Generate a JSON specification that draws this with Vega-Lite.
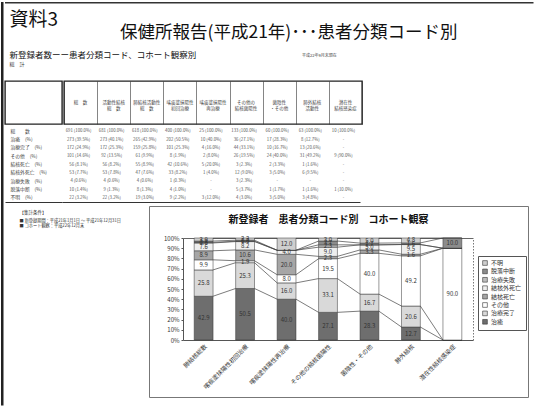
{
  "$schema": "https://vega.github.io/schema/vega-lite/v6.json",
  "padding": {"left": 1, "top": 2, "right": 0, "bottom": 0},
  "spacing": 0,
  "datasets": {
    "cohort": [
      {"cat": "総数", "status": "総数", "n": 691, "pct": 100},
      {"cat": "総数", "status": "治癒", "n": 273, "pct": 39.5},
      {"cat": "総数", "status": "治療完了", "n": 172, "pct": 24.9},
      {"cat": "総数", "status": "その他", "n": 101, "pct": 14.6},
      {"cat": "総数", "status": "結核死亡", "n": 56, "pct": 8.1},
      {"cat": "総数", "status": "結核外死亡", "n": 53, "pct": 7.7},
      {"cat": "総数", "status": "治療失敗", "n": 4, "pct": 0.6},
      {"cat": "総数", "status": "脱落中断", "n": 10, "pct": 1.4},
      {"cat": "総数", "status": "不明", "n": 22, "pct": 3.2},
      {"cat": "活動性結核総数", "status": "総数", "n": 681, "pct": 100},
      {"cat": "活動性結核総数", "status": "治癒", "n": 273, "pct": 40.1},
      {"cat": "活動性結核総数", "status": "治療完了", "n": 172, "pct": 25.3},
      {"cat": "活動性結核総数", "status": "その他", "n": 92, "pct": 13.5},
      {"cat": "活動性結核総数", "status": "結核死亡", "n": 56, "pct": 8.2},
      {"cat": "活動性結核総数", "status": "結核外死亡", "n": 53, "pct": 7.8},
      {"cat": "活動性結核総数", "status": "治療失敗", "n": 4, "pct": 0.6},
      {"cat": "活動性結核総数", "status": "脱落中断", "n": 9, "pct": 1.3},
      {"cat": "活動性結核総数", "status": "不明", "n": 22, "pct": 3.2},
      {"cat": "肺結核総数", "status": "総数", "n": 618, "pct": 100},
      {"cat": "肺結核総数", "status": "治癒", "n": 265, "pct": 42.9},
      {"cat": "肺結核総数", "status": "治療完了", "n": 159, "pct": 25.8},
      {"cat": "肺結核総数", "status": "その他", "n": 61, "pct": 9.9},
      {"cat": "肺結核総数", "status": "結核死亡", "n": 55, "pct": 8.9},
      {"cat": "肺結核総数", "status": "結核外死亡", "n": 47, "pct": 7.6},
      {"cat": "肺結核総数", "status": "治療失敗", "n": 4, "pct": 0.6},
      {"cat": "肺結核総数", "status": "脱落中断", "n": 8, "pct": 1.3},
      {"cat": "肺結核総数", "status": "不明", "n": 19, "pct": 3.0},
      {"cat": "喀痰塗抹陽性初回治療", "status": "総数", "n": 400, "pct": 100},
      {"cat": "喀痰塗抹陽性初回治療", "status": "治癒", "n": 202, "pct": 50.5},
      {"cat": "喀痰塗抹陽性初回治療", "status": "治療完了", "n": 101, "pct": 25.3},
      {"cat": "喀痰塗抹陽性初回治療", "status": "その他", "n": 8, "pct": 1.9},
      {"cat": "喀痰塗抹陽性初回治療", "status": "結核死亡", "n": 42, "pct": 10.6},
      {"cat": "喀痰塗抹陽性初回治療", "status": "結核外死亡", "n": 33, "pct": 8.2},
      {"cat": "喀痰塗抹陽性初回治療", "status": "治療失敗", "n": 1, "pct": 0.3},
      {"cat": "喀痰塗抹陽性初回治療", "status": "脱落中断", "n": 4, "pct": 1.0},
      {"cat": "喀痰塗抹陽性初回治療", "status": "不明", "n": 9, "pct": 2.2},
      {"cat": "喀痰塗抹陽性再治療", "status": "総数", "n": 25, "pct": 100},
      {"cat": "喀痰塗抹陽性再治療", "status": "治癒", "n": 10, "pct": 40.0},
      {"cat": "喀痰塗抹陽性再治療", "status": "治療完了", "n": 4, "pct": 16.0},
      {"cat": "喀痰塗抹陽性再治療", "status": "その他", "n": 2, "pct": 8.0},
      {"cat": "喀痰塗抹陽性再治療", "status": "結核死亡", "n": 5, "pct": 20.0},
      {"cat": "喀痰塗抹陽性再治療", "status": "結核外死亡", "n": 1, "pct": 4.0},
      {"cat": "喀痰塗抹陽性再治療", "status": "治療失敗", "n": 0, "pct": 0},
      {"cat": "喀痰塗抹陽性再治療", "status": "脱落中断", "n": 0, "pct": 0},
      {"cat": "喀痰塗抹陽性再治療", "status": "不明", "n": 3, "pct": 12.0},
      {"cat": "その他の結核菌陽性", "status": "総数", "n": 133, "pct": 100},
      {"cat": "その他の結核菌陽性", "status": "治癒", "n": 36, "pct": 27.1},
      {"cat": "その他の結核菌陽性", "status": "治療完了", "n": 44, "pct": 33.1},
      {"cat": "その他の結核菌陽性", "status": "その他", "n": 26, "pct": 19.5},
      {"cat": "その他の結核菌陽性", "status": "結核死亡", "n": 3, "pct": 2.3},
      {"cat": "その他の結核菌陽性", "status": "結核外死亡", "n": 12, "pct": 9.0},
      {"cat": "その他の結核菌陽性", "status": "治療失敗", "n": 3, "pct": 2.3},
      {"cat": "その他の結核菌陽性", "status": "脱落中断", "n": 5, "pct": 3.7},
      {"cat": "その他の結核菌陽性", "status": "不明", "n": 4, "pct": 3.0},
      {"cat": "菌陰性・その他", "status": "総数", "n": 60, "pct": 100},
      {"cat": "菌陰性・その他", "status": "治癒", "n": 17, "pct": 28.3},
      {"cat": "菌陰性・その他", "status": "治療完了", "n": 10, "pct": 16.7},
      {"cat": "菌陰性・その他", "status": "その他", "n": 24, "pct": 40.0},
      {"cat": "菌陰性・その他", "status": "結核死亡", "n": 2, "pct": 3.3},
      {"cat": "菌陰性・その他", "status": "結核外死亡", "n": 3, "pct": 5.0},
      {"cat": "菌陰性・その他", "status": "治療失敗", "n": 0, "pct": 0},
      {"cat": "菌陰性・その他", "status": "脱落中断", "n": 1, "pct": 1.7},
      {"cat": "菌陰性・その他", "status": "不明", "n": 3, "pct": 5.0},
      {"cat": "肺外結核", "status": "総数", "n": 63, "pct": 100},
      {"cat": "肺外結核", "status": "治癒", "n": 8, "pct": 12.7},
      {"cat": "肺外結核", "status": "治療完了", "n": 13, "pct": 20.6},
      {"cat": "肺外結核", "status": "その他", "n": 31, "pct": 49.2},
      {"cat": "肺外結核", "status": "結核死亡", "n": 1, "pct": 1.6},
      {"cat": "肺外結核", "status": "結核外死亡", "n": 6, "pct": 9.5},
      {"cat": "肺外結核", "status": "治療失敗", "n": 0, "pct": 0},
      {"cat": "肺外結核", "status": "脱落中断", "n": 1, "pct": 1.6},
      {"cat": "肺外結核", "status": "不明", "n": 3, "pct": 4.8},
      {"cat": "潜在性結核感染症", "status": "総数", "n": 10, "pct": 100},
      {"cat": "潜在性結核感染症", "status": "治癒", "n": 0, "pct": 0},
      {"cat": "潜在性結核感染症", "status": "治療完了", "n": 0, "pct": 0},
      {"cat": "潜在性結核感染症", "status": "その他", "n": 9, "pct": 90.0},
      {"cat": "潜在性結核感染症", "status": "結核死亡", "n": 0, "pct": 0},
      {"cat": "潜在性結核感染症", "status": "結核外死亡", "n": 0, "pct": 0},
      {"cat": "潜在性結核感染症", "status": "治療失敗", "n": 0, "pct": 0},
      {"cat": "潜在性結核感染症", "status": "脱落中断", "n": 1, "pct": 10.0},
      {"cat": "潜在性結核感染症", "status": "不明", "n": 0, "pct": 0}
    ],
    "heads": [
      {"cat": "総数", "head": "総　数"},
      {"cat": "活動性結核総数", "head": "活動性結核\n総　数"},
      {"cat": "肺結核総数", "head": "肺結核活動性\n総　数"},
      {"cat": "喀痰塗抹陽性初回治療", "head": "喀痰塗抹陽性\n初回治療"},
      {"cat": "喀痰塗抹陽性再治療", "head": "喀痰塗抹陽性\n再治療"},
      {"cat": "その他の結核菌陽性", "head": "その他の\n結核菌陽性"},
      {"cat": "菌陰性・その他", "head": "菌陰性\n・その他"},
      {"cat": "肺外結核", "head": "肺外結核\n活動性"},
      {"cat": "潜在性結核感染症", "head": "潜在性\n結核感染症"}
    ]
  },
  "config": {
    "font": "Noto Sans CJK JP",
    "view": {"stroke": null},
    "title": {"color": "#111", "fontWeight": "normal", "baseline": "bottom"},
    "text": {"font": "Noto Sans CJK JP"},
    "axis": {"labelFont": "Noto Sans CJK JP", "titleFont": "Noto Sans CJK JP"},
    "legend": {"labelFont": "Noto Sans CJK JP"}
  },
  "hconcat": [
    {"width": 2.5, "height": 403.5, "data": {"values": []}, "mark": "point", "encoding": {}, "view": {"fill": "#222", "stroke": null}},
    {
      "spacing": 0,
      "vconcat": [
        {"width": 528.5, "height": 1.5, "data": {"values": []}, "mark": "point", "encoding": {}, "view": {"fill": "#333", "stroke": null}},
        {
          "spacing": 0,
          "hconcat": [
            {
              "width": 114.5,
              "height": 40.5,
              "data": {"values": []},
              "mark": "point",
              "encoding": {},
              "title": {"text": "資料3", "anchor": "start", "dx": 4.5, "fontSize": 19, "offset": -25.5}
            },
            {
              "width": 414,
              "height": 40.5,
              "data": {"values": []},
              "mark": "point",
              "encoding": {},
              "title": {"text": "保健所報告(平成21年)･･･患者分類コード別", "anchor": "start", "fontSize": 17.5, "offset": -37.5}
            }
          ]
        },
        {
          "spacing": 0,
          "hconcat": [
            {
              "width": 296.5,
              "height": 35,
              "data": {"values": []},
              "mark": "point",
              "encoding": {},
              "title": {
                "text": "新登録者数ーー患者分類コード、コホート観察別",
                "subtitle": "総　計",
                "anchor": "start",
                "dx": 4.5,
                "fontSize": 8.5,
                "subtitleFontSize": 5,
                "subtitlePadding": 3,
                "subtitleColor": "#333",
                "offset": -22
              }
            },
            {
              "width": 232,
              "height": 35,
              "data": {"values": []},
              "mark": "point",
              "encoding": {},
              "title": {"text": "平成22年9月末現在", "anchor": "start", "fontSize": 4, "color": "#444", "offset": -13}
            }
          ]
        },
        {
          "spacing": 0,
          "vconcat": [
            {
              "spacing": 0,
              "hconcat": [
                {
                  "width": 57,
                  "height": 43,
                  "data": {"values": []},
                  "mark": "point",
                  "encoding": {},
                  "view": {"stroke": "#222", "strokeWidth": 1.4}
                },
                {
                  "width": 298,
                  "height": 43,
                  "data": {"name": "heads"},
                  "mark": {"type": "text", "fontSize": 4.5, "lineBreak": "\n", "lineHeight": 6, "color": "#444"},
                  "encoding": {
                    "x": {
                      "field": "cat",
                      "type": "nominal",
                      "scale": {"domain": ["総数", "活動性結核総数", "肺結核総数", "喀痰塗抹陽性初回治療", "喀痰塗抹陽性再治療", "その他の結核菌陽性", "菌陰性・その他", "肺外結核", "潜在性結核感染症"], "paddingInner": 0, "paddingOuter": 0},
                      "axis": {"orient": "top", "labels": false, "ticks": false, "domain": false, "grid": true, "gridColor": "#333", "gridWidth": 0.6, "tickBand": "extent", "title": null}
                    },
                    "text": {"field": "head"}
                  },
                  "view": {"stroke": "#222", "strokeWidth": 1.4}
                }
              ]
            },
            {
              "spacing": 0,
              "hconcat": [
                {
                  "width": 57,
                  "height": 75,
                  "data": {"name": "cohort"},
                  "transform": [{"filter": "datum.cat === '総数'"}],
                  "mark": {"type": "text"},
                  "encoding": {
                    "y": {
                      "field": "status",
                      "type": "nominal",
                      "scale": {"domain": ["総数", "治癒", "治療完了", "その他", "結核死亡", "結核外死亡", "治療失敗", "脱落中断", "不明"], "paddingInner": 0, "paddingOuter": 0},
                      "axis": {"orient": "left", "labelAlign": "left", "labelPadding": -5, "tickSize": 0, "ticks": false, "domain": false, "title": null, "labelFontSize": 4.8, "labelColor": "#444", "labelExpr": "datum.value === '総数' ? '総　　数' : datum.value + '　(%)'"}
                    },
                    "x": {"datum": "区分", "type": "nominal", "axis": {"labels": false, "ticks": false, "domain": true, "domainColor": "#333", "title": null}},
                    "text": {"value": ""}
                  }
                },
                {
                  "width": 298,
                  "height": 75,
                  "data": {"name": "cohort"},
                  "transform": [
                    {"calculate": "datum.n > 0 ? datum.n + ' (' + format(datum.pct, '.1f') + '%)' : '-'", "as": "cell"}
                  ],
                  "mark": {"type": "text", "fontSize": 4.3, "color": "#555"},
                  "encoding": {
                    "x": {
                      "field": "cat",
                      "type": "nominal",
                      "scale": {"domain": ["総数", "活動性結核総数", "肺結核総数", "喀痰塗抹陽性初回治療", "喀痰塗抹陽性再治療", "その他の結核菌陽性", "菌陰性・その他", "肺外結核", "潜在性結核感染症"], "paddingInner": 0, "paddingOuter": 0},
                      "axis": {"orient": "bottom", "labels": false, "ticks": false, "domain": true, "domainColor": "#333", "title": null}
                    },
                    "y": {
                      "field": "status",
                      "type": "nominal",
                      "scale": {"domain": ["総数", "治癒", "治療完了", "その他", "結核死亡", "結核外死亡", "治療失敗", "脱落中断", "不明"], "paddingInner": 0, "paddingOuter": 0},
                      "axis": null
                    },
                    "text": {"field": "cell"}
                  }
                }
              ]
            }
          ]
        },
        {"width": 1, "height": 1.5, "data": {"values": []}, "mark": "point", "encoding": {}},
        {
          "spacing": 0,
          "hconcat": [
            {
              "width": 143,
              "height": 191,
              "data": {"values": []},
              "mark": "point",
              "encoding": {},
              "title": {
                "text": "【集計条件】",
                "subtitle": ["■ 新登録期間：平成21年1月1日 ～ 平成21年12月31日", "■ コホート観察：平成22年12月末"],
                "anchor": "start",
                "dx": 14.5,
                "fontSize": 4.5,
                "color": "#333",
                "subtitleFontSize": 4.2,
                "subtitleColor": "#333",
                "subtitlePadding": 4,
                "subtitleLineHeight": 5,
                "offset": -22
              }
            },
            {
              "width": 379,
              "height": 191,
              "view": {"stroke": "#777", "strokeWidth": 1},
              "data": {"name": "cohort"},
              "transform": [
                {"filter": {"field": "cat", "oneOf": ["肺結核総数", "喀痰塗抹陽性初回治療", "喀痰塗抹陽性再治療", "その他の結核菌陽性", "菌陰性・その他", "肺外結核", "潜在性結核感染症"]}},
                {"filter": "datum.status !== '総数'"},
                {"stack": "pct", "groupby": ["cat"], "as": ["y0", "y1"]}
              ],
              "resolve": {"axis": {"x": "independent", "y": "independent"}},
              "layer": [
                {
                  "mark": {"type": "bar", "stroke": "#333", "strokeWidth": 0.5},
                  "encoding": {
                    "x": {
                      "field": "cat",
                      "type": "nominal",
                      "scale": {"domain": ["肺結核総数", "喀痰塗抹陽性初回治療", "喀痰塗抹陽性再治療", "その他の結核菌陽性", "菌陰性・その他", "肺外結核", "潜在性結核感染症"], "range": [34, 324], "paddingInner": 0.545, "paddingOuter": 0.27},
                      "axis": {"orient": "bottom", "offset": -57, "title": null, "labelAngle": -45, "labelFontSize": 6, "labelColor": "#333", "ticks": false, "domain": true, "domainColor": "#555", "labelPadding": 3}
                    },
                    "y": {
                      "field": "y1",
                      "type": "quantitative",
                      "scale": {"domain": [0, 100], "range": [134, 32], "nice": false},
                      "axis": {"orient": "left", "offset": -34, "title": null, "values": [0, 10, 20, 30, 40, 50, 60, 70, 80, 90, 100], "labelExpr": "datum.value + '%'", "labelFontSize": 6, "labelColor": "#333", "grid": false, "domain": true, "domainColor": "#555", "tickSize": 2, "tickColor": "#555", "labelPadding": 2}
                    },
                    "y2": {"field": "y0"},
                    "color": {
                      "field": "status",
                      "type": "nominal",
                      "scale": {
                        "domain": ["治癒", "治療完了", "その他", "結核死亡", "結核外死亡", "治療失敗", "脱落中断", "不明"],
                        "range": ["#6e6e6e", "#d9d9d9", "#ffffff", "#a6a6a6", "#eeeeee", "#bdbdbd", "#8c8c8c", "#cfcfcf"]
                      },
                      "legend": {
                        "orient": "none",
                        "legendX": 477,
                        "legendY": 254,
                        "title": null,
                        "values": ["不明", "脱落中断", "治療失敗", "結核外死亡", "結核死亡", "その他", "治療完了", "治癒"],
                        "symbolType": "square",
                        "symbolSize": 22,
                        "symbolStrokeColor": "#333",
                        "symbolStrokeWidth": 0.6,
                        "labelFontSize": 6,
                        "labelColor": "#333",
                        "labelOffset": 3,
                        "rowPadding": 0.4,
                        "padding": 4,
                        "strokeColor": "#555"
                      }
                    }
                  }
                },
                {
                  "transform": [
                    {"window": [{"op": "lead", "field": "y1", "as": "ny"}, {"op": "lead", "field": "cat", "as": "ncat"}], "groupby": ["status"]},
                    {"filter": "datum.ncat != null"}
                  ],
                  "mark": {"type": "rule", "color": "#444", "strokeWidth": 0.7},
                  "encoding": {
                    "x": {
                      "field": "cat",
                      "type": "nominal",
                      "bandPosition": 1,
                      "axis": {"orient": "top", "offset": -32, "labels": false, "ticks": false, "domain": true, "domainColor": "#666", "title": "新登録者　患者分類コード別　コホート観察", "titleFontSize": 10, "titleFontWeight": "bold", "titleColor": "#111", "titlePadding": 14}
                    },
                    "x2": {"field": "ncat", "bandPosition": 0},
                    "y": {
                      "field": "y1",
                      "type": "quantitative",
                      "axis": {"orient": "right", "offset": -55, "labels": false, "ticks": false, "grid": false, "domain": true, "domainColor": "#777", "domainDash": [1.5, 1.5], "title": null}
                    },
                    "y2": {"field": "ny"}
                  }
                },
                {
                  "transform": [
                    {"filter": "datum.pct > 0"},
                    {"calculate": "(datum.y0 + datum.y1) / 2", "as": "ymid"}
                  ],
                  "mark": {"type": "text", "fontSize": 6, "color": "#333"},
                  "encoding": {
                    "x": {"field": "cat", "type": "nominal", "axis": null},
                    "y": {"field": "ymid", "type": "quantitative", "axis": null},
                    "text": {"field": "pct", "type": "quantitative", "format": ".1f"}
                  }
                }
              ]
            }
          ]
        },
        {"width": 1, "height": 12.5, "data": {"values": []}, "mark": "point", "encoding": {}},
        {"width": 528.5, "height": 1.5, "data": {"values": []}, "mark": "point", "encoding": {}, "view": {"fill": "#333", "stroke": null}}
      ]
    },
    {"width": 1.5, "height": 403.5, "data": {"values": []}, "mark": "point", "encoding": {}, "view": {"fill": "#333", "stroke": null}}
  ]
}
